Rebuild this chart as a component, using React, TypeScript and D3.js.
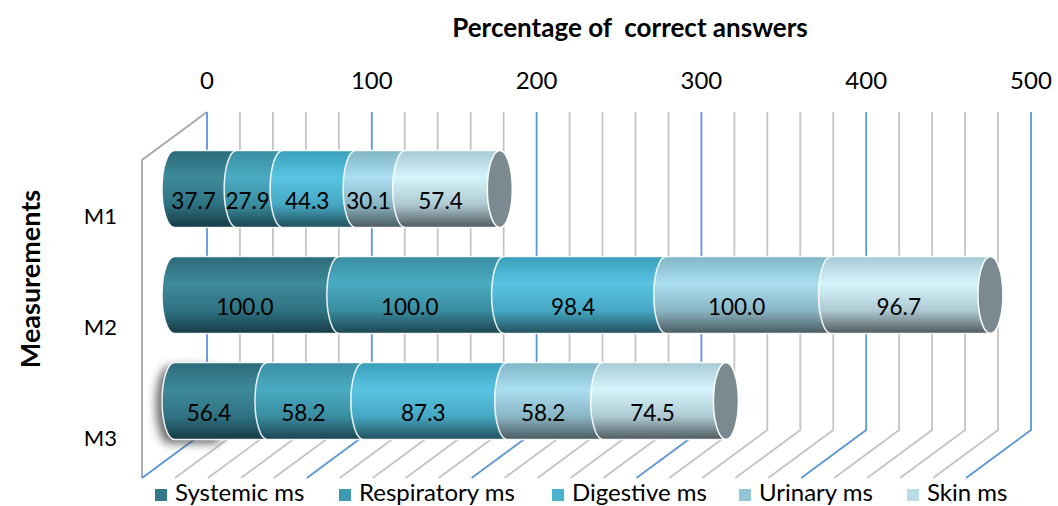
import React from "react";
import * as d3 from "d3";

const categories = ["M1", "M2", "M3"];
const seriesNames = ["Systemic ms", "Respiratory ms", "Digestive ms", "Urinary ms", "Skin ms"];
const systemic = [37.7, 100.0, 56.4];
const respiratory = [27.9, 100.0, 58.2];
const digestive = [44.3, 98.4, 87.3];
const urinary = [30.1, 100.0, 58.2];
const skin = [57.4, 96.7, 74.5];
const seriesValues = [systemic, respiratory, digestive, urinary, skin];
const xTicks = [0, 100, 200, 300, 400, 500];
const gridStep = 20;

// styling
const legendColors = ["#31788a", "#3e9ab0", "#4ab2cc", "#93c5d6", "#b9dce6"];
const gradStops = [
  ["#2c6a7a", "#3e8a9a", "#2f7383", "#163a44"],
  ["#3a8ea2", "#4aabc2", "#3a8da0", "#1c4450"],
  ["#3aa0bb", "#58c4e2", "#46a8c4", "#22505c"],
  ["#80b6c6", "#aadef1", "#8bb6c4", "#4a5a60"],
  ["#a6cad6", "#d6f3fc", "#aec9d2", "#4e5a5e"],
];
const legendX = [155, 339, 552, 739, 907];

const FONT = "Lato, 'Open Sans', sans-serif";

export default function App() {
  const W = 1058, H = 506;
  const backX0 = 207, backTop = 112, backBottom = 430;
  const dx = -65, dy = 48;
  const x = d3.scaleLinear().domain([0, 500]).range([0, 824]);
  const midX0 = backX0 + dx / 2;
  const yMid = d3.scaleBand().domain(categories).range([backTop + dy / 2, backBottom + dy / 2]);
  const yLab = d3.scaleBand().domain(categories).range([160, 492]);
  const ry = 38.5, rx = 12.5;

  const grid = d3.range(0, 500 + 0.001, gridStep);

  const segPath = (xa: number, xb: number, cy: number) =>
    `M${xa},${cy - ry} A${rx},${ry} 0 0 0 ${xa},${cy + ry} L${xb},${cy + ry} A${rx},${ry} 0 0 0 ${xb},${cy - ry} Z`;

  return (
    <svg width={W} height={H} style={{ position: "absolute", left: 0, top: 0, background: "#fff" }} fontFamily={FONT}>
      <defs>
        {gradStops.map((s, i) => (
          <linearGradient key={i} id={`g${i}`} x1="0" y1="0" x2="0" y2="1">
            <stop offset="0" stopColor={s[0]} />
            <stop offset="0.35" stopColor={s[1]} />
            <stop offset="0.7" stopColor={s[2]} />
            <stop offset="1" stopColor={s[3]} />
          </linearGradient>
        ))}
        <filter id="blur" x="-50%" y="-50%" width="200%" height="200%">
          <feGaussianBlur stdDeviation="5" />
        </filter>
      </defs>

      {/* title */}
      <text x={630} y={37} textAnchor="middle" fontWeight="bold" fontSize={26} style={{ whiteSpace: "pre" }}>
        Percentage of  correct answers
      </text>
      <text transform="translate(40,279) rotate(-90)" textAnchor="middle" fontWeight="bold" fontSize={27}>
        Measurements
      </text>

      {/* top axis labels */}
      {xTicks.map((t) => (
        <text key={t} x={backX0 + x(t)} y={89} textAnchor="middle" fontSize={24}>
          {t}
        </text>
      ))}

      {/* left wall */}
      <polyline
        points={`${backX0},${backTop} ${backX0 + dx},${backTop + dy} ${backX0 + dx},${backBottom + dy}`}
        fill="none"
        stroke="#a6a6a6"
        strokeWidth={1.8}
      />

      {/* gridlines back wall + floor */}
      {grid.map((v) => {
        const major = Math.abs(v % 100) < 1e-6;
        const gx = backX0 + x(v);
        return (
          <polyline
            key={v}
            points={`${gx},${backTop} ${gx},${backBottom} ${gx + dx},${backBottom + dy}`}
            fill="none"
            stroke={major ? "#5b96d8" : "#c4c4c4"}
            strokeWidth={1.8}
          />
        );
      })}

      {/* category labels */}
      {categories.map((c) => (
        <text key={c} x={117} y={(yLab(c) as number) + yLab.bandwidth() / 2 + 9} textAnchor="end" fontSize={22}>
          {c}
        </text>
      ))}

      {/* bars */}
      {categories.map((c, ci) => {
        const cy = (yMid(c) as number) + yMid.bandwidth() / 2;
        let acc = 0;
        const segs = seriesValues.map((vals, si) => {
          const a = acc;
          acc += vals[ci];
          return { si, a, b: acc, v: vals[ci] };
        });
        const end = midX0 + x(acc);
        return (
          <g key={c}>
            {ci === 2 && (
              <path
                d={segPath(midX0 - 6, midX0 + 40, cy + 4)}
                fill="#444"
                opacity={0.8}
                filter="url(#blur)"
              />
            )}
            {segs.map((s) => (
              <path
                key={s.si}
                d={segPath(midX0 + x(s.a), midX0 + x(s.b), cy)}
                fill={`url(#g${s.si})`}
                stroke="#ffffff"
                strokeWidth={1.5}
                strokeOpacity={0.9}
              />
            ))}
            <ellipse cx={end} cy={cy} rx={rx} ry={ry} fill="#7a8a90" stroke="#ffffff" strokeWidth={1.5} />
            {segs.map((s) => (
              <text
                key={"t" + s.si}
                x={midX0 + x((s.a + s.b) / 2) - 12}
                y={cy + 20}
                textAnchor="middle"
                fontSize={22.5}
                fill="#000"
              >
                {s.v.toFixed(1)}
              </text>
            ))}
          </g>
        );
      })}

      {/* legend */}
      {seriesNames.map((n, i) => (
        <g key={n}>
          <rect x={legendX[i]} y={489} width={12} height={12} fill={legendColors[i]} />
          <text x={legendX[i] + 20} y={501} fontSize={24}>
            {n}
          </text>
        </g>
      ))}
    </svg>
  );
}
